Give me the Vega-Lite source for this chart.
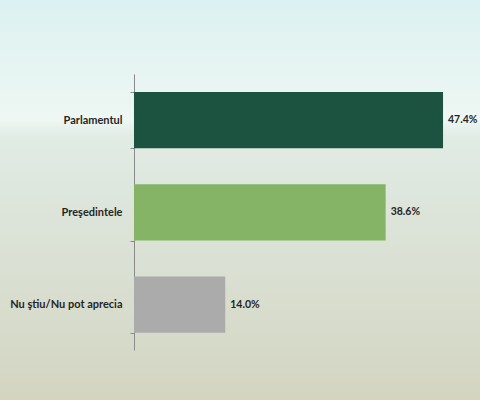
{
  "$schema": "https://vega.github.io/schema/vega-lite/v6.json",
  "width": 480,
  "height": 400,
  "autosize": "none",
  "padding": 0,
  "background": "#dfe6dc",
  "view": {
    "stroke": null,
    "fill": {
      "gradient": "linear",
      "x1": 0, "y1": 0, "x2": 0, "y2": 1,
      "stops": [
        {"offset": 0, "color": "#dcf1f1"},
        {"offset": 0.3, "color": "#eef7f3"},
        {"offset": 0.34, "color": "#e1ece5"},
        {"offset": 0.6, "color": "#dbe2d6"},
        {"offset": 1, "color": "#d3d5c1"}
      ]
    }
  },
  "title": {
    "text": "Preşedintele sau Parlamentul?",
    "font": "Liberation Serif",
    "fontSize": 23,
    "fontWeight": "bold",
    "color": "#111111",
    "anchor": "start",
    "frame": "group",
    "baseline": "top",
    "offset": 0,
    "dx": 3,
    "dy": -18,
    "zindex": 2
  },
  "data": {
    "values": [
      {"Institutie": "Parlamentul", "Procent": 0.474},
      {"Institutie": "Preşedintele", "Procent": 0.386},
      {"Institutie": "Nu ştiu/Nu pot aprecia", "Procent": 0.14}
    ]
  },
  "encoding": {
    "y": {
      "field": "Institutie",
      "type": "nominal",
      "sort": null,
      "title": null,
      "scale": {"paddingInner": 0.39, "paddingOuter": 0.862, "align": 0.578},
      "axis": {
        "orient": "left",
        "offset": -134,
        "labelFont": "Lato",
        "labelFontSize": 11,
        "labelFontWeight": "bold",
        "labelColor": "#262626",
        "labelPadding": 8,
        "tickBand": "extent",
        "tickSize": 4,
        "tickColor": "#8a8a8a",
        "domainColor": "#8a8a8a",
        "domainDash": [0, 74, 276, 60],
        "grid": false
      }
    },
    "x": {
      "field": "Procent",
      "type": "quantitative",
      "scale": {"domain": [-0.2055, 0.5307], "nice": false, "zero": false},
      "axis": null
    }
  },
  "layer": [
    {
      "mark": {"type": "bar"},
      "encoding": {
        "color": {
          "field": "Institutie",
          "type": "nominal",
          "scale": {
            "domain": ["Parlamentul", "Preşedintele", "Nu ştiu/Nu pot aprecia"],
            "range": ["#1c5240", "#85b467", "#ababab"]
          },
          "legend": null
        }
      }
    },
    {
      "mark": {
        "type": "text",
        "align": "left",
        "baseline": "middle",
        "dx": 5,
        "font": "Lato",
        "fontSize": 10.5,
        "fontWeight": "bold",
        "color": "#262626"
      },
      "encoding": {
        "text": {"field": "Procent", "type": "quantitative", "format": ".1%"}
      }
    }
  ]
}
